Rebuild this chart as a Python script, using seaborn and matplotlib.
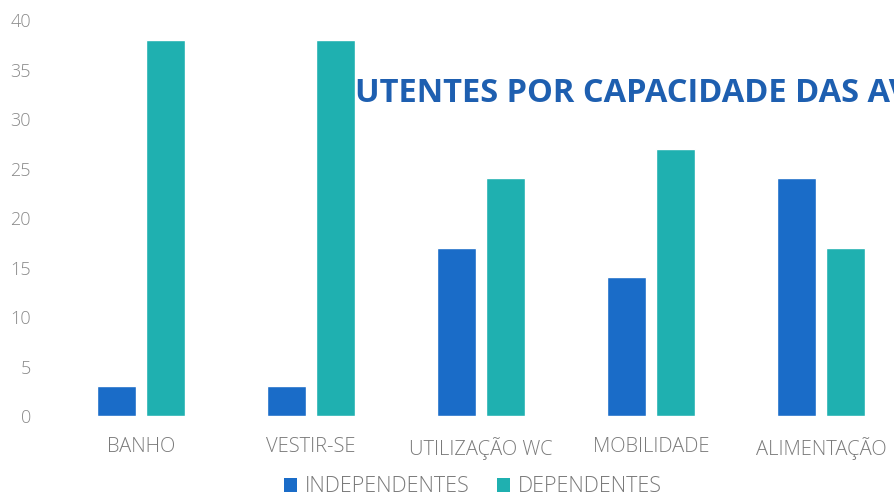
import matplotlib
matplotlib.use("Agg")
import matplotlib.pyplot as plt
import seaborn as sns
import pandas as pd
from matplotlib.patches import Patch

categories = ["BANHO", "VESTIR-SE", "UTILIZAÇÃO WC", "MOBILIDADE", "ALIMENTAÇÃO"]
independentes = [3, 3, 17, 14, 24]
dependentes = [38, 38, 24, 27, 17]
series_names = ["INDEPENDENTES", "DEPENDENTES"]
y_ticks = [0, 5, 10, 15, 20, 25, 30, 35, 40]
title = "UTENTES POR CAPACIDADE DAS AVDS"

colors = ["#1a6cc8", "#1fb0b0"]

df = pd.DataFrame({
    "cat": categories * 2,
    "serie": [series_names[0]] * len(categories) + [series_names[1]] * len(categories),
    "val": independentes + dependentes,
})

sns.set_theme(style="white")
plt.rcParams["font.family"] = ["Open Sans", "DejaVu Sans"]

fig = plt.figure(figsize=(8.94, 4.96), dpi=100)
W, H = 894, 496
x0, x1 = 56, 906
y0, y1 = 416, 20
ax = fig.add_axes([x0 / W, 1 - y0 / H, (x1 - x0) / W, (y0 - y1) / H])

sns.barplot(data=df, x="cat", y="val", hue="serie", palette=colors,
            width=0.576, gap=0.22, ax=ax, legend=False, saturation=1)

ax.set_xlim(-0.5, 4.5)
ax.set_ylim(0, 40)
ax.set_yticks(y_ticks)
ax.set_yticklabels([str(t) for t in y_ticks], fontsize=13, color="#8a8a8a",
                   fontweight="light")
ax.tick_params(axis="x", labelsize=14.5, labelcolor="#7a7a7a", length=0, pad=15)
ax.tick_params(axis="y", length=0, pad=18)
for lab in ax.get_xticklabels():
    lab.set_fontweight("light")
ax.set_xlabel("")
ax.set_ylabel("")
for s in ax.spines.values():
    s.set_visible(False)

fig.text(355 / W, 1 - 93 / H, title, fontsize=23.5, fontweight="bold",
         color="#1e5fb0", va="center", ha="left")

handles = [Patch(facecolor=c, edgecolor="none") for c in colors]
fig.legend(handles, series_names, loc="center", bbox_to_anchor=(473 / W, 1 - 487 / H),
           ncol=2, frameon=False, handlelength=0.6, handleheight=0.6,
           handletextpad=0.35, columnspacing=1.3, labelcolor="#7a7a7a",
           prop={"weight": "light", "size": 15.5})

fig.savefig("out.png", dpi=100)
